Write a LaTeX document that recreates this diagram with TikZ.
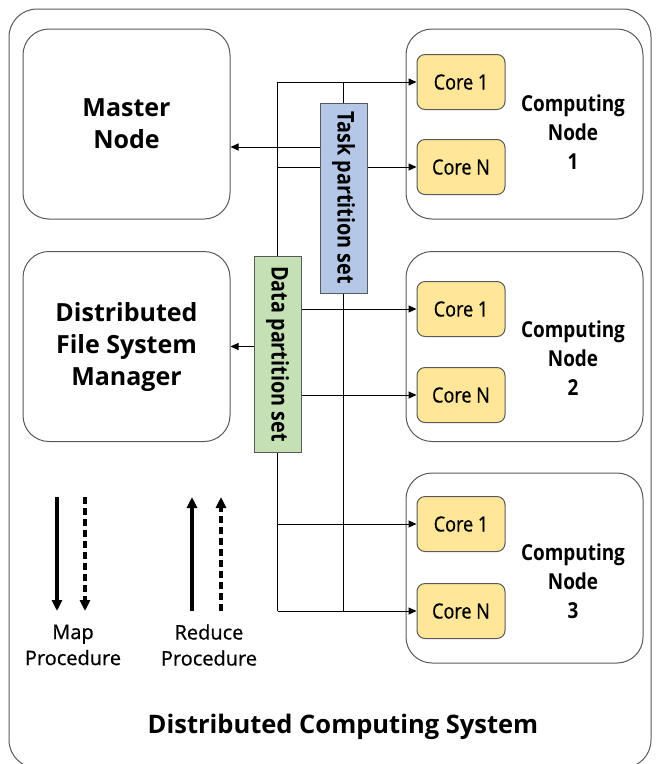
\documentclass[tikz,border=0pt]{standalone}
\usepackage{fontspec}
\setmainfont{Open Sans}
\newfontfamily\narrowfont[FakeStretch=0.86]{Open Sans}
\newfontfamily\narrowmedium[FakeStretch=0.86,FakeBold=0.6]{Open Sans}
\newfontfamily\mediumfont[FakeBold=0.6]{Open Sans}
\usetikzlibrary{arrows.meta}

\definecolor{edgegray}{HTML}{595959}
\definecolor{corefill}{HTML}{FFE699}
\definecolor{taskfill}{HTML}{B4C7E7}
\definecolor{datafill}{HTML}{C5E0B4}

\tikzset{
  frame/.style={draw=edgegray, line width=1pt, rounded corners=28pt},
  bigbox/.style={draw=edgegray, line width=1pt, rounded corners=26pt, inner sep=0pt,
    minimum width=207pt, minimum height=190pt, align=center,
    font=\bfseries\fontsize{25}{32}\selectfont},
  compnode/.style={draw=edgegray, line width=1pt, rounded corners=26pt, inner sep=0pt,
    minimum width=237pt, minimum height=190pt},
  corebox/.style={draw=edgegray, fill=corefill, line width=1pt, rounded corners=8pt,
    minimum width=88pt, minimum height=55pt, inner sep=0pt,
    font=\narrowmedium\fontsize{21}{24}\selectfont},
  complabel/.style={align=center, font=\narrowfont\bfseries\fontsize{22}{29}\selectfont},
  partbox/.style={draw=edgegray, line width=1pt, minimum width=47pt, inner sep=0pt,
    font=\narrowfont\bfseries\fontsize{23}{24}\selectfont},
  link/.style={draw=black, line width=1pt},
  arr/.style={link, -{Triangle[length=8pt,width=7pt]}},
  legarr/.style={line width=3.2pt, -{Triangle[length=11pt,width=10pt]}},
  legdash/.style={legarr, dash pattern=on 7pt off 4pt},
  legtext/.style={align=center, font=\mediumfont\fontsize{20}{26}\selectfont}
}

\begin{document}
\begin{tikzpicture}[x=1pt, y=-1pt]
  \useasboundingbox (0,0) rectangle (656,764);

  % outer system frame
  \draw[frame] (9,9) rectangle (651,768);
  \node[font=\bfseries\fontsize{25.5}{28}\selectfont] (title) at (343,727) {Distributed Computing System};

  % management boxes
  \node[bigbox] (master) at (126.5,124) {Master\\Node};
  \node[bigbox] (dfs) at (126.5,346.5) {Distributed\\File System\\Manager};

  % computing nodes
  \node[compnode] (cn1) at (524.5,124) {};
  \node[compnode] (cn2) at (524.5,346.5) {};
  \node[compnode] (cn3) at (524.5,568) {};

  \node[complabel] (cl1) at (573,132) {Computing\\Node\\1};
  \node[complabel] (cl2) at (573,358) {Computing\\Node\\2};
  \node[complabel] (cl3) at (573,581) {Computing\\Node\\3};

  \node[corebox] (c1a) at (461,82)  {Core 1};
  \node[corebox] (cNa) at (461,167) {Core N};
  \node[corebox] (c1b) at (461,309) {Core 1};
  \node[corebox] (cNb) at (461,395) {Core N};
  \node[corebox] (c1c) at (461,524) {Core 1};
  \node[corebox] (cNc) at (461,611) {Core N};

  % partition sets
  \node[partbox, fill=taskfill, minimum height=190pt] (tbox) at (343.5,198) {\rotatebox{-90}{Task partition set}};
  \node[partbox, fill=datafill, minimum height=196pt] (dbox) at (277.5,354) {\rotatebox{-90}{Data partition set}};

  % bus junctions
  \coordinate (dtop) at (277.5,82);
  \coordinate (dbot) at (277.5,611);
  \coordinate (ttop) at (343.5,82);
  \coordinate (tbot) at (343.5,611);
  \coordinate (dmid) at (277.5,167);
  \coordinate (mtap) at (320,147);

  % data bus
  \draw[link] (dtop) -- (dbox.north);
  \draw[link] (dbox.south) -- (dbot);
  % task bus
  \draw[link] (ttop) -- (tbox.north);
  \draw[link] (tbox.south) -- (tbot);

  % node 1 feeds
  \draw[arr] (dtop) -- (c1a.west);
  \draw[link] (dmid) -- (dmid -| tbox.west);
  \draw[arr] (dmid -| tbox.east) -- (cNa.west);
  \draw[arr] (mtap) -- (mtap -| master.east);

  % node 2 feeds and file system manager
  \draw[arr] (dbox.west |- dfs.east) -- (dfs.east);
  \draw[arr] (dbox.east |- c1b.west) -- (c1b.west);
  \draw[arr] (dbox.east |- cNb.west) -- (cNb.west);

  % node 3 feeds
  \draw[arr] (dtop |- c1c.west) -- (c1c.west);
  \draw[arr] (dbot) -- (cNc.west);

  % legend
  \coordinate (mapS) at (57,497);   \coordinate (mapE) at (57,611);
  \coordinate (mapDS) at (85,497);  \coordinate (mapDE) at (85,611);
  \coordinate (redS) at (192,611);  \coordinate (redE) at (192,497);
  \coordinate (redDS) at (221,611); \coordinate (redDE) at (221,497);
  \draw[legarr] (mapS) -- (mapE);
  \draw[legdash] (mapDS) -- (mapDE);
  \draw[legarr] (redS) -- (redE);
  \draw[legdash] (redDS) -- (redDE);
  \node[legtext] (maplbl) at (73,645) {Map\\Procedure};
  \node[legtext] (redlbl) at (209,645) {Reduce\\Procedure};
\end{tikzpicture}
\end{document}
